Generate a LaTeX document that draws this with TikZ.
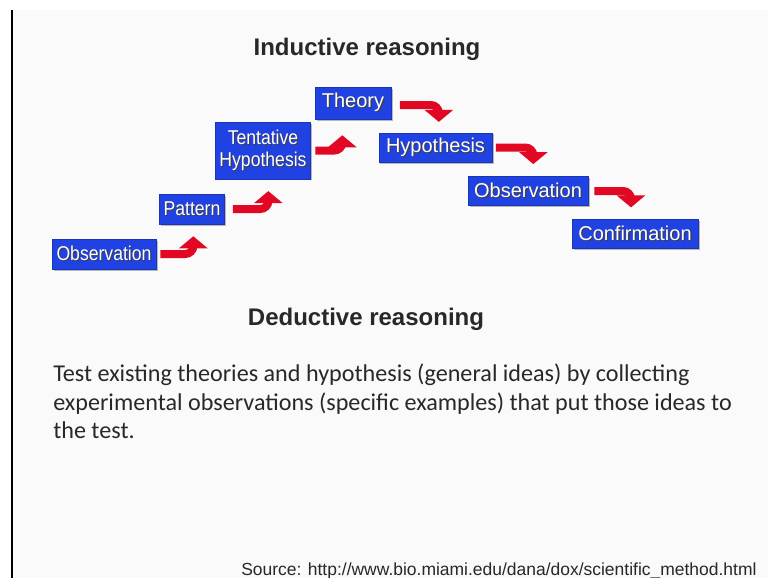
\documentclass[tikz,border=0pt]{standalone}
\usepackage{fontspec}
\setmainfont{Liberation Sans}
\newfontfamily\calibri{Carlito}
\usetikzlibrary{arrows.meta,shadows}
\definecolor{boxblue}{RGB}{32,66,226}
\definecolor{arrowred}{RGB}{226,8,36}
\definecolor{txtgray}{RGB}{40,40,40}
\definecolor{bggray}{RGB}{250,250,250}
\newcommand\shtxt[1]{\makebox[0pt][l]{\raisebox{-0.9pt}{\hspace{0.9pt}\textcolor{black!75}{#1}}}\textcolor{white}{#1}}
\newcommand\narrow[1]{\scalebox{0.88}[1]{#1}}
\tikzset{
  stepnode/.style={fill=boxblue, draw=boxblue!80!black, line width=0.4pt, inner sep=0pt,
    font=\fontsize{15}{15.5}\selectfont, align=center,
    drop shadow={shadow xshift=1.2pt, shadow yshift=-1.2pt, fill=black!45, opacity=0.6}},
  redarrow/.style={draw=arrowred, line width=6pt, rounded corners=6pt,
    -{Triangle[width=21pt,length=9pt]}},
  heading/.style={font=\fontsize{18}{20}\selectfont\bfseries, text=txtgray}
}
\begin{document}
\begin{tikzpicture}[x=0.75pt,y=-0.75pt]
\useasboundingbox (0,0) rectangle (768,578);
\clip (0,0) rectangle (768,578);
\fill[white] (0,0) rectangle (768,578);
\fill[bggray] (12,10) rectangle (768,578);
\draw[black, line width=1.5pt] (12,10) -- (12,578);

\node[heading] (ind) at (367,49) {Inductive reasoning};
\node[heading] (ded) at (366,319) {Deductive reasoning};

\node[stepnode, minimum width=78pt, minimum height=22.5pt] (obs1) at (104,254) {\narrow{\shtxt{Observation}}};
\node[stepnode, minimum width=49pt, minimum height=22.5pt] (pat) at (192,209) {\narrow{\shtxt{Pattern}}};
\node[stepnode, minimum width=71pt, minimum height=42.5pt] (tent) at (263,150.5) {\narrow{\shtxt{Tentative}}\\[1pt]\narrow{\shtxt{Hypothesis}}};
\node[stepnode, minimum width=57pt, minimum height=24pt] (theo) at (353,103) {\shtxt{Theory}};
\node[stepnode, minimum width=85pt, minimum height=22pt] (hyp) at (435.5,147.5) {\shtxt{Hypothesis}};
\node[stepnode, minimum width=90pt, minimum height=22pt] (obs2) at (528,191) {\shtxt{Observation}};
\node[stepnode, minimum width=94.5pt, minimum height=21.5pt] (conf) at (635,234) {\shtxt{Confirmation}};

\draw[redarrow, shorten >=9] ([xshift=3pt]obs1.east) -| ([xshift=1]pat.south);
\draw[redarrow, shorten >=9] ([xshift=6pt]pat.east) -| ([xshift=4]tent.south);
\draw[redarrow, shorten >=12] ([xshift=3.5pt]tent.east) -| ([xshift=-8]theo.south);
\draw[redarrow, shorten >=8] ([xshift=6.5pt,yshift=-1.5pt]theo.east) -| ([xshift=2.5]hyp.north);
\draw[redarrow, shorten >=9] ([xshift=2.5pt]hyp.east) -| ([xshift=4]obs2.north);
\draw[redarrow, shorten >=9] ([xshift=4.5pt]obs2.east) -| ([xshift=-3]conf.north);

\node[anchor=north west, align=left, text=txtgray, inner sep=0pt,
  font=\calibri\fontsize{18.1}{21.4}\selectfont] (para) at (53,364)
  {Test existing theories and hypothesis (general ideas) by collecting\\
   experimental observations (specific examples) that put those ideas to\\
   the test.};

\node[anchor=base west, inner sep=0pt, text=txtgray, font=\fontsize{13.1}{15}\selectfont] (src) at (241,575)
  {Source: http://www.bio.miami.edu/dana/dox/scientific\_method.html};
\end{tikzpicture}
\end{document}
